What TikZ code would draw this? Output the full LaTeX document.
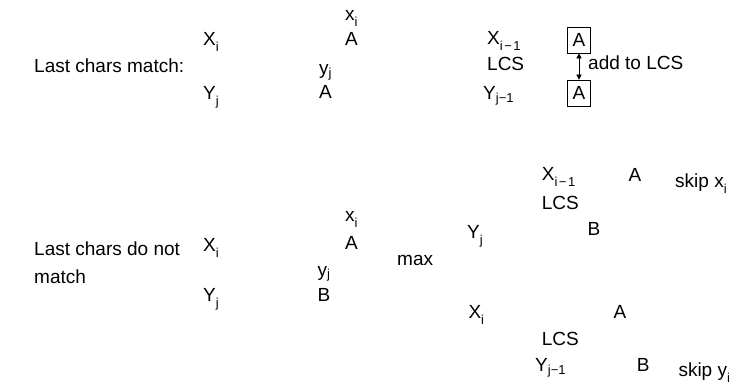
\documentclass[tikz,border=0pt]{standalone}
\usepackage{fontspec}
\setmainfont{Liberation Sans}
\usetikzlibrary{arrows.meta}
\newcommand\subA[1]{\raisebox{-6pt}{\fontsize{13}{13}\selectfont #1}}
\newcommand\subB[1]{\raisebox{-2.5pt}{\fontsize{13}{13}\selectfont #1}}
\tikzset{
  lbl/.style={anchor=base west, inner sep=0pt, font=\fontsize{19}{23}\selectfont},
  boxed/.style={draw, line width=0.6pt, minimum width=23pt, minimum height=26pt, inner sep=0pt, font=\fontsize{19}{23}\selectfont},
  link/.style={line width=0.4pt, {Triangle[length=5pt,width=5pt]}-{Triangle[length=5pt,width=5pt]}}
}
\begin{document}
\begin{tikzpicture}[x=1pt,y=-1pt]
\useasboundingbox (0,0) rectangle (738,387);
% top section
\node[lbl] (lm) at (34,73) {Last chars match:};
\node[lbl] (X1) at (203,46) {X\subA{i}};
\node[lbl] (Y1) at (203,100) {Y\subA{j}};
\node[lbl] (xa) at (345,21) {x\subA{i}};
\node[lbl] (A1) at (345,46) {A};
\node[lbl] (yb) at (319,75) {y\subB{j}};
\node[lbl] (A2) at (319,99) {A};
\node[lbl] (Xm1) at (487,45) {X\subA{i\kern1.5pt−\kern1.5pt1}};
\node[lbl] (LCS1) at (487,71) {LCS};
\node[lbl] (Ym1) at (483,100) {Y\subB{j−1}};
\node[boxed] (bA1) at (579,40) {A};
\node[boxed] (bA2) at (579,93) {A};
\draw[link] (bA1.south) -- (bA2.north);
\node[lbl] (add) at (588,70) {add to LCS};
% bottom section
\node[lbl] (ln1) at (34,255) {Last chars do not};
\node[lbl] (ln2) at (34,283) {match};
\node[lbl] (X2) at (203,251.7) {X\subA{i}};
\node[lbl] (Y2) at (203,301.7) {Y\subA{j}};
\node[lbl] (xb) at (345,221.7) {x\subA{i}};
\node[lbl] (A3) at (345,250) {A};
\node[lbl] (yc) at (317.3,276) {y\subB{j}};
\node[lbl] (B1) at (317.3,301.7) {B};
\node[lbl] (mx) at (397,265) {max};
\node[lbl] (Yr) at (467,238.3) {Y\subA{j}};
\node[lbl] (Xr1) at (541.7,180.7) {X\subA{i\kern1.5pt−\kern1.5pt1}};
\node[lbl] (Ar1) at (628.3,181.7) {A};
\node[lbl] (skx) at (675,188) {skip x\subA{i}};
\node[lbl] (LCS2) at (541.7,209.3) {LCS};
\node[lbl] (Br1) at (587.3,236) {B};
\node[lbl] (Xr2) at (468.3,318.3) {X\subA{i}};
\node[lbl] (Ar2) at (613.3,318.3) {A};
\node[lbl] (LCS3) at (541.7,345) {LCS};
\node[lbl] (Yr2) at (535,371.7) {Y\subB{j−1}};
\node[lbl] (Br2) at (636.7,371.7) {B};
\node[lbl] (sky) at (678.3,376.7) {skip y\subA{i}};
\end{tikzpicture}
\end{document}
